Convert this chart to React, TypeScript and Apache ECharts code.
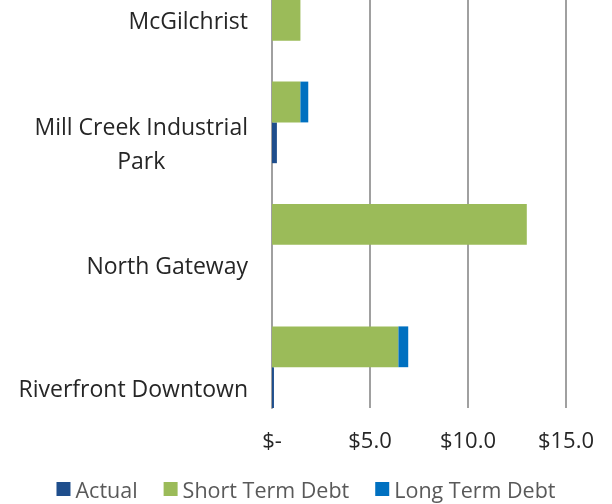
import React, { useEffect, useRef } from "react";
import * as echarts from "echarts";

// Rows from top to bottom: each project has a debt row and a labeled "actual" row.
const rowLabels = [
  "McGilchrist",
  "",
  "",
  "Mill Creek Industrial\nPark",
  "",
  "",
  "North Gateway",
  "",
  "",
  "Riverfront Downtown",
];
const actual = [null, null, null, 0.25, null, null, null, null, null, 0.1];
const shortTermDebt = [1.45, null, 1.45, null, null, 13.0, null, null, 6.45, null];
const longTermDebt = [null, null, 0.4, null, null, null, null, null, 0.5, null];
const xTicks = [0, 5, 10, 15];

const FONT = "Open Sans";

export default function App() {
  const ref = useRef<HTMLDivElement>(null);
  useEffect(() => {
    if (!ref.current) return;
    const chart = echarts.init(ref.current, null, { renderer: "svg" });
    chart.setOption({
      animation: false,
      textStyle: { fontFamily: FONT },
      grid: { left: 272, right: 46, top: 0, bottom: 96, containLabel: false },
      legend: {
        data: ["Actual", "Short Term Debt", "Long Term Debt"],
        left: "center",
        top: 478,
        icon: "rect",
        itemWidth: 14,
        itemHeight: 14,
        itemGap: 26,
        padding: 0,
        textStyle: { fontFamily: FONT, fontSize: 21.5, color: "#595959" },
      },
      xAxis: {
        type: "value",
        min: xTicks[0],
        max: xTicks[xTicks.length - 1],
        interval: 5,
        axisLine: { show: false },
        axisTick: { show: false },
        splitLine: { show: true, lineStyle: { color: "#a0a0a0", width: 2 } },
        axisLabel: {
          fontFamily: FONT,
          fontSize: 22,
          color: "#262626",
          margin: 20,
          formatter: (v: number) => (v === 0 ? "$-" : "$" + v.toFixed(1)),
        },
      },
      yAxis: {
        type: "category",
        inverse: true,
        data: rowLabels,
        axisLine: { show: true, lineStyle: { color: "#a0a0a0", width: 2 } },
        axisTick: { show: false },
        axisLabel: {
          interval: 0,
          margin: 24,
          fontFamily: FONT,
          fontSize: 23,
          color: "#262626",
          lineHeight: 34,
          formatter: (v: string) =>
            v.indexOf("\n") >= 0
              ? v.split("\n").map((s) => "{c|" + s + "}").join("\n")
              : v,
          rich: {
            c: {
              align: "center",
              fontFamily: FONT,
              fontSize: 23,
              color: "#262626",
              lineHeight: 34,
            },
          },
        },
      },
      series: [
        {
          name: "Actual",
          type: "bar",
          stack: "total",
          barCategoryGap: "0%",
          itemStyle: { color: "#1F4E8C" },
          data: actual,
        },
        {
          name: "Short Term Debt",
          type: "bar",
          stack: "total",
          barCategoryGap: "0%",
          itemStyle: { color: "#9BBB59" },
          data: shortTermDebt,
        },
        {
          name: "Long Term Debt",
          type: "bar",
          stack: "total",
          barCategoryGap: "0%",
          itemStyle: { color: "#0070C0" },
          data: longTermDebt,
        },
      ],
    });
    return () => chart.dispose();
  }, []);
  return (
    <div
      ref={ref}
      style={{ position: "fixed", left: 0, top: 0, width: 612, height: 504 }}
    />
  );
}
